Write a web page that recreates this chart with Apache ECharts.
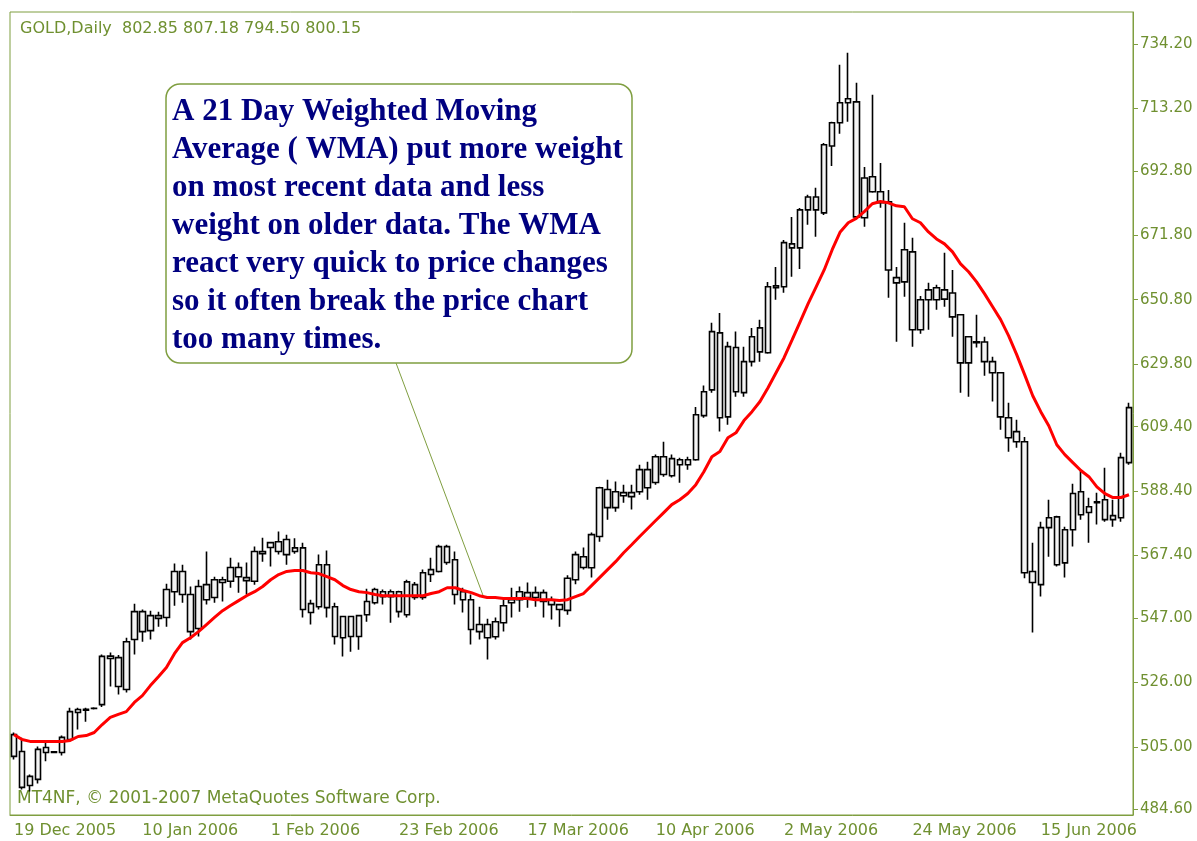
<!DOCTYPE html>
<html>
<head>
<meta charset="utf-8">
<script src="https://cdn.jsdelivr.net/npm/echarts@6/dist/echarts.min.js"></script>
<style>
  html, body { margin: 0; padding: 0; background: #fff; }
  #GoldChart { width: 1197px; height: 841px; }
</style>
</head>
<body>
<div id="GoldChart"></div>
<script>
// daily bars, [open, close, low, high]
const ohlc = [
  [509.0,501.9,500.9,509.7],[503.5,491.8,491.1,508.0],[492.4,495.4,490.5,496.0],[494.4,504.2,493.1,505.1],
  [503.2,504.8,500.3,506.4],[503.2,503.4,503.0,503.6],[503.2,508.1,502.2,508.7],[507.4,516.5,506.8,517.8],
  [516.2,517.2,510.7,517.8],[517.0,517.3,513.2,517.8],[517.5,517.6,517.2,517.9],[518.8,534.5,518.0,535.1],
  [533.8,534.6,524.7,535.8],[534.1,524.7,522.1,535.0],[523.7,539.3,522.7,540.6],[540.0,549.1,535.1,551.7],
  [549.1,542.6,539.3,549.8],[542.9,547.8,540.0,549.4],[546.9,547.8,544.2,549.1],[547.2,556.3,544.2,558.2],
  [555.6,562.2,551.0,564.8],[562.2,554.7,552.0,564.4],[554.7,542.6,540.0,557.3],[543.6,557.3,541.0,559.5],
  [553.0,557.9,551.4,568.7],[553.7,559.5,552.0,560.5],[558.6,559.5,552.4,560.5],[559.0,563.5,556.9,566.7],
  [563.5,560.5,555.3,565.1],[559.2,560.2,554.7,565.1],[559.0,568.7,557.9,570.3],[568.0,568.7,565.4,573.2],
  [570.0,571.6,563.8,571.9],[568.7,571.9,567.7,575.2],[572.6,567.7,564.4,574.2],[568.7,569.9,568.0,573.0],
  [569.9,549.8,547.2,571.6],[548.8,551.7,544.9,553.0],[550.7,564.4,549.8,567.7],[564.4,550.4,547.2,569.0],
  [550.7,541.0,538.4,552.0],[540.6,547.5,534.5,547.8],[541.0,547.5,536.0,547.8],[541.0,547.8,536.7,548.1],
  [548.1,552.4,545.8,556.6],[552.0,556.3,551.4,556.9],[554.0,555.6,551.4,556.3],[555.6,554.0,545.5,556.3],
  [555.6,549.1,547.2,555.9],[548.1,558.8,547.2,559.5],[557.9,553.7,553.0,558.8],[553.7,561.8,553.0,562.8],
  [561.2,562.8,558.8,566.7],[562.2,570.3,561.9,570.9],[570.3,565.1,564.4,570.9],[566.0,554.7,551.4,568.7],
  [555.6,553.0,548.8,556.9],[553.0,543.3,538.4,554.7],[542.6,544.9,540.0,550.7],[544.9,540.6,533.5,546.8],
  [540.9,545.8,540.0,547.2],[545.5,551.0,542.6,553.0],[552.0,553.0,547.2,556.9],[553.0,555.6,549.1,557.3],
  [555.3,553.7,550.4,558.6],[553.7,555.3,550.7,557.3],[555.3,552.4,547.2,556.3],[553.0,551.4,546.5,554.0],
  [551.4,549.8,544.2,551.7],[549.5,560.0,548.1,561.0],[559.5,567.7,558.0,568.7],[567.0,563.5,562.8,570.0],
  [563.4,574.2,560.2,574.9],[573.6,589.5,571.9,589.8],[588.9,583.0,579.1,592.1],[583.0,588.2,581.7,591.5],
  [586.9,587.9,584.6,590.5],[587.9,586.6,582.4,590.5],[588.2,595.4,587.2,597.0],[595.4,589.5,585.6,598.0],
  [591.2,599.6,590.5,600.3],[599.6,593.8,593.1,604.5],[593.4,599.0,592.8,600.3],[598.6,597.0,591.1,599.3],
  [597.0,598.6,595.4,599.6],[598.6,613.3,598.3,615.8],[613.0,620.8,612.3,622.8],[621.4,640.4,620.5,643.3],
  [640.0,612.3,607.8,646.5],[612.6,635.5,610.0,637.1],[635.2,620.8,619.2,640.4],[620.5,630.6,619.2,635.5],
  [630.6,638.7,629.0,641.6],[641.6,633.8,630.6,644.3],[633.5,655.0,633.2,656.6],[655.3,654.7,650.8,661.5],
  [655.0,669.4,653.1,670.3],[669.0,667.7,658.3,677.8],[667.7,680.1,660.8,680.7],[680.1,684.3,675.2,685.0],
  [684.3,680.1,671.3,687.3],[679.1,701.3,678.4,701.9],[700.9,708.5,694.4,708.8],[708.5,715.0,704.9,727.4],
  [715.0,716.3,708.8,731.3],[715.3,677.8,677.5,721.5],[677.5,690.5,674.6,694.1],[690.9,686.0,685.7,717.6],
  [686.0,682.4,680.8,695.4],[682.7,660.5,651.4,686.6],[658.0,656.3,637.1,661.5],[656.6,667.1,651.8,675.9],
  [666.4,641.0,635.5,671.0],[641.0,650.8,639.7,652.0],[650.8,654.0,641.0,656.3],[650.8,654.7,647.5,655.7],
  [654.0,651.0,648.5,666.1],[653.0,645.2,638.7,660.5],[645.9,630.2,620.5,645.9],[630.2,638.7,619.2,638.7],
  [636.8,637.1,635.2,645.9],[637.0,630.6,626.0,638.7],[630.6,627.0,617.6,632.2],[627.0,612.6,608.4,627.0],
  [612.3,605.8,601.2,617.2],[607.8,604.5,602.5,611.7],[604.5,561.8,560.0,606.0],[558.6,562.2,542.3,571.6],
  [557.9,576.5,554.0,578.4],[576.5,579.7,567.0,585.6],[580.0,564.4,563.8,580.4],[565.0,575.8,560.2,576.8],
  [575.8,587.6,570.3,590.8],[588.2,580.7,579.1,595.4],[583.3,581.4,571.6,586.2],[584.6,584.9,577.5,587.9],
  [585.6,579.1,578.4,596.0],[579.1,580.4,576.8,585.6],[579.7,599.3,578.4,600.9],[597.7,615.6,597.0,617.2]
];

// 21 day weighted moving average (red line)
const wma = [
  509.0,507.4,506.8,506.8,506.8,506.8,506.8,507.1,508.4,508.7,
  509.7,512.3,514.6,515.6,516.5,519.5,521.7,525.0,527.9,530.9,
  535.4,539.0,540.6,542.6,544.9,547.2,549.4,551.1,552.7,554.3,
  555.6,557.3,559.5,561.2,562.2,562.5,562.5,561.8,561.5,560.5,
  559.5,557.6,556.3,555.6,555.3,554.7,554.3,554.3,554.3,554.3,
  554.3,554.3,555.0,555.6,556.9,556.9,556.0,555.3,554.3,553.7,
  553.7,553.4,553.4,553.4,553.4,553.0,553.0,553.0,552.7,553.0,
  554.0,555.0,557.6,560.2,562.8,565.4,568.3,570.9,573.6,576.2,
  578.8,581.4,584.0,585.6,587.6,590.5,594.7,599.6,601.3,605.8,
  607.4,611.4,614.3,617.6,622.1,627.0,631.9,637.7,643.6,649.5,
  655.0,660.5,667.1,672.9,675.9,677.3,679.5,682.1,682.8,682.4,
  681.4,681.1,677.2,675.9,672.9,670.6,669.0,666.4,662.5,659.9,
  656.6,652.7,648.5,644.3,639.0,632.9,626.3,619.5,614.3,609.7,
  603.5,600.3,597.7,595.1,593.1,589.8,587.6,586.3,586.3,587.2
];

const xTickLabels = ["19 Dec 2005", "10 Jan 2006", "1 Feb 2006", "23 Feb 2006", "17 Mar 2006",
  "10 Apr 2006", "2 May 2006", "24 May 2006", "15 Jun 2006"];
const yTickLabels = [484.6, 505.0, 526.0, 547.0, 567.4, 588.4, 609.4, 629.8, 650.8, 671.8, 692.8, 713.2, 734.2];

const noteLines = [
  "A 21 Day Weighted Moving",
  "Average ( WMA) put more weight",
  "on most recent data and less",
  "weight on older data. The WMA",
  "react very quick to price changes",
  "so it often break the price chart",
  "too many times."
];

// trading days (weekdays) from 19 Dec 2005
const categories = [];
for (let d = new Date(Date.UTC(2005, 11, 19)); categories.length < ohlc.length; d.setUTCDate(d.getUTCDate() + 1)) {
  const w = d.getUTCDay();
  if (w !== 0 && w !== 6) categories.push(d.toISOString().slice(0, 10));
}

const lineGreen = "#7f9e40";
const textGreen = "#6f9030";
const labelStep = 16;

const chart = echarts.init(document.getElementById("GoldChart"));
chart.setOption({
  animation: false,
  backgroundColor: "#fff",
  grid: {
    left: 10, right: 64, top: 12, bottom: 26,
    show: true, borderColor: lineGreen, borderWidth: 1
  },
  xAxis: {
    type: "category",
    data: categories,
    boundaryGap: true,
    axisLine: { lineStyle: { color: lineGreen, width: 1 } },
    axisTick: {
      alignWithLabel: true,
      length: 6,
      interval: function (idx) { return idx % labelStep === 0; },
      lineStyle: { color: lineGreen }
    },
    axisLabel: {
      interval: function (idx) { return idx % labelStep === 0; },
      formatter: function (v, idx) { return xTickLabels[idx / labelStep]; },
      align: "left",
      margin: 8,
      color: textGreen,
      fontFamily: "DejaVu Sans",
      fontSize: 16
    },
    splitLine: { show: false }
  },
  yAxis: {
    type: "value",
    position: "right",
    min: 482.8,
    max: 744.6,
    axisLine: { show: true, lineStyle: { color: lineGreen, width: 1 } },
    axisTick: {
      show: true, length: 5,
      customValues: yTickLabels,
      lineStyle: { color: lineGreen }
    },
    axisLabel: {
      customValues: yTickLabels,
      formatter: function (v) { return v.toFixed(2); },
      margin: 7,
      color: textGreen,
      fontFamily: "DejaVu Sans",
      fontSize: 15
    },
    splitLine: { show: false }
  },
  series: [
    {
      name: "GOLD",
      type: "candlestick",
      data: ohlc,
      barWidth: 6,
      itemStyle: {
        color: "#f4f4f4",
        color0: "#f4f4f4",
        borderColor: "#000000",
        borderColor0: "#000000",
        borderWidth: 1.6
      },
      z: 3
    },
    {
      name: "WMA 21",
      type: "line",
      data: wma,
      showSymbol: false,
      symbol: "none",
      lineStyle: { color: "#ff0000", width: 3 },
      z: 4
    }
  ],
  graphic: [
    {
      type: "text", left: 20, top: 21,
      style: { text: "GOLD,Daily  802.85 807.18 794.50 800.15", fill: textGreen, font: "16px 'DejaVu Sans'" }
    },
    {
      type: "text", left: 17, top: 790,
      style: { text: "MT4NF, \u00a9 2001-2007 MetaQuotes Software Corp.", fill: textGreen, font: "17px 'DejaVu Sans'" }
    },
    {
      type: "line", z: 1,
      shape: { x1: 396, y1: 363, x2: 484, y2: 598 },
      style: { stroke: lineGreen, lineWidth: 1 }
    },
    {
      type: "rect", z: 100,
      shape: { x: 166, y: 84, width: 466, height: 279, r: 14 },
      style: { fill: "#ffffff", stroke: lineGreen, lineWidth: 1.5 }
    },
    {
      type: "text", z: 101, x: 172, y: 93,
      style: {
        text: noteLines.join("\n"),
        fill: "#000080",
        font: "bold 31px 'Liberation Serif'",
        lineHeight: 38
      }
    }
  ]
});
</script>
</body>
</html>
